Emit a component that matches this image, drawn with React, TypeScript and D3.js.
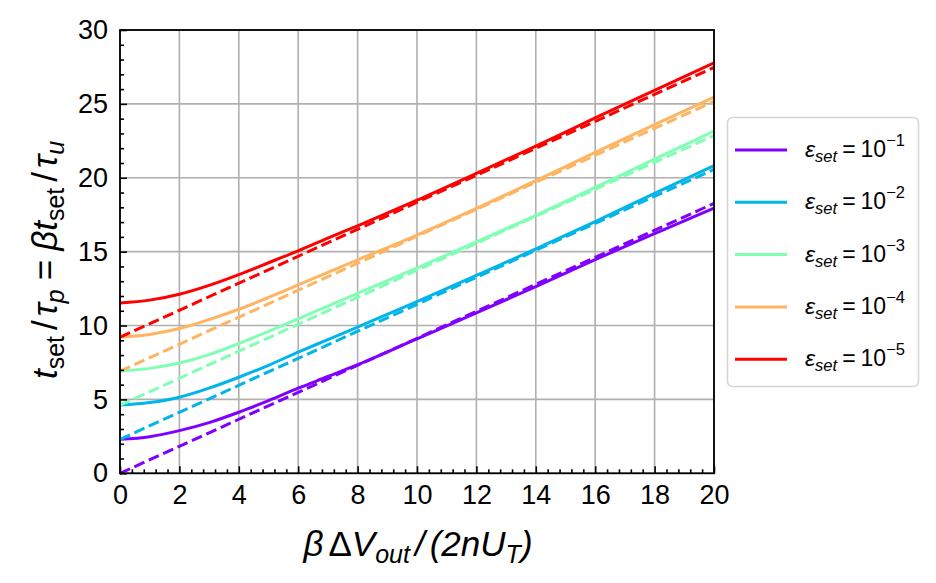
import React, { useRef, useEffect } from 'react';
import * as d3 from 'd3';

const xValues = [0, 1, 2, 3, 4, 5, 6, 7, 8, 10, 12, 14, 16, 18, 20];

// solid curves (one per epsilon)
const solid1 = [2.3, 2.48, 2.89, 3.43, 4.13, 4.92, 5.76, 6.55, 7.35, 9.1, 10.85, 12.64, 14.46, 16.22, 17.95];
const solid2 = [4.62, 4.79, 5.15, 5.76, 6.5, 7.31, 8.2, 9.05, 9.9, 11.62, 13.4, 15.18, 17.03, 18.95, 20.82];
const solid3 = [6.93, 7.1, 7.46, 8.03, 8.78, 9.6, 10.45, 11.32, 12.18, 13.9, 15.66, 17.46, 19.35, 21.26, 23.15];
const solid4 = [9.22, 9.4, 9.8, 10.4, 11.1, 11.9, 12.75, 13.6, 14.45, 16.12, 17.93, 19.8, 21.72, 23.6, 25.45];
const solid5 = [11.53, 11.72, 12.12, 12.72, 13.45, 14.25, 15.06, 15.92, 16.75, 18.48, 20.3, 22.14, 24.05, 25.92, 27.78];

// dashed asymptotes
const dashX = [0, 20];
const dashed1 = [0, 18.27];
const dashed2 = [2.3, 20.57];
const dashed3 = [4.61, 22.87];
const dashed4 = [6.91, 25.17];
const dashed5 = [9.21, 27.47];

const exponents = ['1', '2', '3', '4', '5'];
const colors = ['#8000ff', '#01b5eb', '#80ffb4', '#ffb462', '#ff0000'];

const xTicks = [0, 2, 4, 6, 8, 10, 12, 14, 16, 18, 20];
const yTicks = [0, 5, 10, 15, 20, 25, 30];

const solids = [solid1, solid2, solid3, solid4, solid5];
const dasheds = [dashed1, dashed2, dashed3, dashed4, dashed5];

const FONT = '"Liberation Sans", Arial, sans-serif';

const width = 936;
const height = 583;
const margin = { top: 30, right: 222, bottom: 109.7, left: 120 };
const innerWidth = width - margin.left - margin.right;
const innerHeight = height - margin.top - margin.bottom;

const Chart: React.FC = () => {
  const gRef = useRef<SVGGElement>(null);

  useEffect(() => {
    if (!gRef.current) return;
    const svg = d3.select(gRef.current);
    svg.selectAll('*').remove();

    const xScale = d3.scaleLinear().domain([0, 20]).range([0, innerWidth]);
    const yScale = d3.scaleLinear().domain([0, 30]).range([innerHeight, 0]);

    // grid
    svg
      .append('g')
      .selectAll('line')
      .data(xTicks)
      .enter()
      .append('line')
      .attr('x1', (d) => xScale(d))
      .attr('x2', (d) => xScale(d))
      .attr('y1', 0)
      .attr('y2', innerHeight)
      .attr('stroke', '#b0b0b0')
      .attr('stroke-width', 1.6);

    svg
      .append('g')
      .selectAll('line')
      .data(yTicks)
      .enter()
      .append('line')
      .attr('x1', 0)
      .attr('x2', innerWidth)
      .attr('y1', (d) => yScale(d))
      .attr('y2', (d) => yScale(d))
      .attr('stroke', '#b0b0b0')
      .attr('stroke-width', 1.6);

    // curves
    const line = d3
      .line<[number, number]>()
      .x((d) => xScale(d[0]))
      .y((d) => yScale(d[1]))
      .curve(d3.curveMonotoneX);

    solids.forEach((vals, i) => {
      svg
        .append('path')
        .datum(xValues.map((x, j) => [x, vals[j]] as [number, number]))
        .attr('fill', 'none')
        .attr('stroke', colors[i])
        .attr('stroke-width', 3)
        .attr('d', line);
      svg
        .append('path')
        .datum(dashX.map((x, j) => [x, dasheds[i][j]] as [number, number]))
        .attr('fill', 'none')
        .attr('stroke', colors[i])
        .attr('stroke-width', 3)
        .attr('stroke-dasharray', '11,4.8')
        .attr('d', line);
    });

    // axes
    const xAxis = svg.append('g').attr('transform', `translate(0,${innerHeight})`);
    xAxis.call(
      d3.axisBottom(xScale).tickValues(xTicks).tickSize(-7).tickPadding(9).tickFormat(d3.format('d'))
    );
    const xMinor = d3.range(0, 51).filter((i) => i % 5 !== 0).map((i) => i * 0.4);
    svg
      .append('g')
      .attr('transform', `translate(0,${innerHeight})`)
      .call(d3.axisBottom(xScale).tickValues(xMinor).tickSize(-4).tickFormat(() => ''))
      .call((g) => g.select('.domain').remove());

    const yAxis = svg.append('g');
    yAxis.call(d3.axisLeft(yScale).tickValues(yTicks).tickSize(-7).tickPadding(12).tickFormat(d3.format('d')));
    const yMinor = d3.range(0, 31).filter((i) => i % 5 !== 0);
    svg
      .append('g')
      .call(d3.axisLeft(yScale).tickValues(yMinor).tickSize(-4).tickFormat(() => ''))
      .call((g) => g.select('.domain').remove());

    svg.selectAll('.tick line').attr('stroke', '#000').attr('stroke-width', 1.6);
    svg.selectAll('.domain').remove();
    svg
      .selectAll('.tick text')
      .attr('font-family', FONT)
      .attr('font-size', 27)
      .attr('fill', '#000');
    xAxis.selectAll('.tick text').attr('dy', '0.8em');

    // frame
    svg
      .append('rect')
      .attr('x', 0)
      .attr('y', 0)
      .attr('width', innerWidth)
      .attr('height', innerHeight)
      .attr('fill', 'none')
      .attr('stroke', '#000')
      .attr('stroke-width', 1.8);
  }, []);

  const legendY = (i: number) => 150 + i * 52.3;

  return (
    <svg
      width={width}
      height={height}
      style={{ position: 'absolute', left: 0, top: 0, background: '#fff' }}
      fontFamily={FONT}
    >
      <rect x={0} y={0} width={width} height={height} fill="#fff" />
      <g ref={gRef} transform={`translate(${margin.left},${margin.top})`} />

      {/* x label */}
      <text x={418} y={556} textAnchor="middle" fontSize={35} fontStyle="italic">
        β<tspan dx={5} fontStyle="normal">Δ</tspan>
        <tspan>V</tspan>
        <tspan fontSize={25} dy={7}>out</tspan>
        <tspan dy={-7} dx={5}>/</tspan>
        <tspan dx={5}>(2nU</tspan>
        <tspan fontSize={25} dy={7}>T</tspan>
        <tspan dy={-7}>)</tspan>
      </text>

      {/* y label */}
      <text transform="translate(57,260) rotate(-90)" textAnchor="middle" fontSize={35}>
        <tspan fontStyle="italic">t</tspan>
        <tspan fontSize={25} dy={7}>set</tspan>
        <tspan dy={-7} dx={6}>/</tspan>
        <tspan fontStyle="italic" dx={4}>τ</tspan>
        <tspan fontStyle="italic" fontSize={25} dy={7}>p</tspan>
        <tspan dy={-7} dx={9}>=</tspan>
        <tspan fontStyle="italic" dx={9}>βt</tspan>
        <tspan fontSize={25} dy={7}>set</tspan>
        <tspan dy={-7} dx={6}>/</tspan>
        <tspan fontStyle="italic" dx={4}>τ</tspan>
        <tspan fontStyle="italic" fontSize={25} dy={7}>u</tspan>
      </text>

      {/* legend */}
      <rect x={727.5} y={117.5} width={191} height={269} rx={5} fill="#fff" stroke="#d6d6d6" strokeWidth={1.6} />
      {exponents.map((e, i) => (
        <g key={e}>
          <line x1={735} x2={787} y1={legendY(i)} y2={legendY(i)} stroke={colors[i]} strokeWidth={3} />
          <text x={805} y={legendY(i) + 7} fontSize={23}>
            <tspan fontStyle="italic">ε</tspan>
            <tspan fontStyle="italic" fontSize={16.5} dy={5}>set</tspan>
            <tspan dy={-5} dx={5}>=</tspan>
            <tspan dx={5}>10</tspan>
            <tspan fontSize={16.5} dy={-11}>−{e}</tspan>
          </text>
        </g>
      ))}
    </svg>
  );
};

export default function App() {
  return <Chart />;
}
